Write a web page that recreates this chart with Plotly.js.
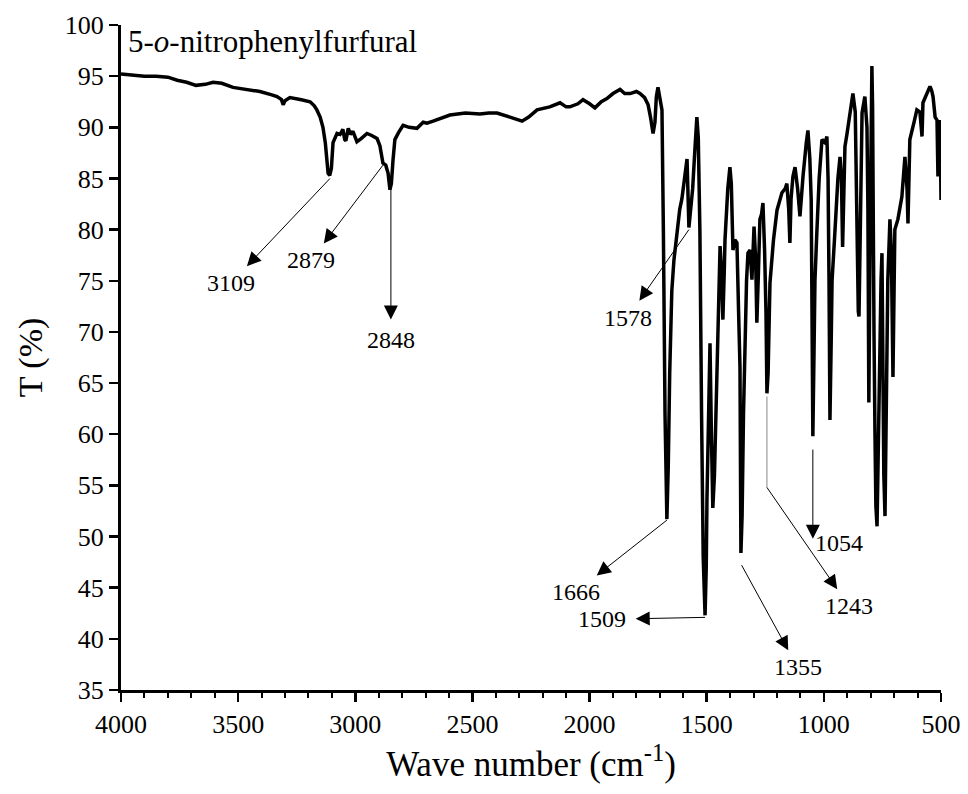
<!DOCTYPE html>
<html>
<head>
<meta charset="utf-8">
<script src="https://cdn.plot.ly/plotly-3.0.1.min.js"></script>
<style>html,body{margin:0;padding:0;background:#fff;}#chart{width:968px;height:794px;}</style>
</head>
<body>
<div id="chart"></div>
<script>
// Spectrum values (wavenumber in cm^-1, transmittance in %)
const wavenumber = [4000,3950,3900,3850,3800,3760,3720,3680,3640,3607,3570,3522,3470,3407,3360,3334,3315,3308,3300,3279,3230,3193,3175,3164,3150,3138,3128,3120,3116,3109,3102,3095,3078,3065,3053,3045,3040,3030,3020,3010,2993,2975,2950,2930,2907,2895,2882,2870,2860,2852,2846,2839,2831,2815,2796,2770,2737,2710,2694,2668,2630,2596,2530,2468,2430,2395,2340,2288,2260,2224,2170,2126,2100,2084,2050,2028,2000,1977,1950,1926,1900,1870,1850,1827,1800,1785,1765,1750,1740,1729,1721,1715,1708,1700,1691,1685,1678,1670,1664,1658,1649,1640,1627,1615,1606,1595,1584,1576,1568,1560,1550,1542,1536,1529,1522,1515,1507,1502,1499,1493,1486,1480,1474,1467,1460,1450,1443,1437,1431,1425,1422,1410,1401,1395,1388,1380,1371,1364,1358,1354,1349,1343,1337,1330,1324,1315,1307,1298,1291,1286,1279,1273,1266,1260,1253,1247,1243,1238,1230,1215,1200,1179,1165,1158,1150,1145,1140,1132,1123,1112,1102,1095,1089,1075,1068,1060,1054,1050,1047,1042,1038,1030,1020,1008,995,987,982,978,974,968,965,953,940,931,925,920,915,910,901,889,876,866,858,853,850,845,837,825,816,812,808,803,799,795,792,790,786,782,778,773,768,761,756,752,748,744,739,733,727,718,712,705,700,697,684,667,654,645,641,637,633,615,603,590,581,577,560,547,540,534,525,517,513,508,504,500];
const transmittance = [95.2,95.1,95.0,95.0,94.9,94.6,94.4,94.1,94.2,94.4,94.3,93.9,93.7,93.5,93.2,93.0,92.7,92.2,92.6,92.9,92.7,92.5,92.1,91.7,91.0,90.0,88.5,86.5,85.5,85.3,86.0,88.5,89.4,89.3,89.8,88.8,88.7,89.9,89.3,89.6,88.6,88.9,89.4,89.2,88.9,88.2,86.5,86.3,85.5,83.9,84.5,86.8,88.8,89.5,90.2,90.0,89.9,90.5,90.4,90.6,90.9,91.2,91.4,91.3,91.4,91.4,91.0,90.6,91.0,91.7,92.0,92.4,92.0,92.0,92.3,92.7,92.3,91.9,92.5,92.8,93.3,93.7,93.3,93.3,93.5,93.3,92.9,92.2,91.0,89.4,90.5,93.0,93.9,93.0,91.7,80.0,62.0,51.7,57.0,66.0,74.0,77.0,79.5,82.0,83.0,85.0,86.9,80.2,82.5,84.0,88.0,91.0,89.0,79.7,62.0,48.0,42.3,47.0,53.6,62.0,68.9,60.0,52.8,56.0,63.4,72.0,78.4,76.0,71.2,76.0,79.0,84.0,86.1,84.5,78.0,79.0,78.7,72.0,66.6,48.4,52.0,62.0,69.9,75.0,77.7,78.0,75.1,80.3,77.0,70.9,76.0,81.0,81.5,82.6,78.0,71.9,64.0,66.0,74.8,79.0,81.9,83.6,84.0,84.5,82.0,78.7,83.0,85.2,86.1,84.0,81.3,84.0,85.2,88.5,89.7,87.0,82.9,70.0,59.8,68.0,75.0,79.7,85.0,88.8,88.5,89.1,85.0,75.0,61.4,70.0,75.0,79.7,85.0,87.1,85.0,78.3,84.0,88.1,89.4,91.4,93.3,91.5,76.7,72.0,71.5,78.0,91.4,93.0,90.0,82.2,63.1,78.0,90.0,96.0,92.0,81.6,70.0,60.4,53.0,51.0,60.0,70.2,75.0,77.7,62.1,56.0,52.0,63.0,75.1,81.0,78.0,65.6,76.0,80.0,81.0,83.2,87.1,84.0,80.6,84.0,88.8,90.5,91.7,91.5,89.1,92.4,93.3,94.0,93.6,93.0,91.0,90.7,85.2,89.0,90.7,82.9];

// Peak annotation labels, where their arrows start (on the band) and where the label sits
const peakLabels = ["3109","2879","2848","1578","1666","1509","1355","1243","1054"];
const arrowTailX = [3108,2882,2848,1576,1670,1507,1351,1243,1047];
const arrowTailY = [85.0,86.3,83.9,80.0,51.6,42.1,47.2,54.8,58.5];
const labelX = [3530,3189,2848,1838,2058,1946,1112,893,1047];
const labelY = [74.8,77.0,69.2,71.4,44.6,41.9,37.2,43.2,49.4];
const labelAnchor = ['center','center','center','center','center','center','center','center','left'];
const labelStandoff = [3,3,6,3,3,8,3,3,4];

const serif = "Liberation Serif, Times New Roman, serif";
const annotations = [];
for (let i = 0; i < peakLabels.length; i++) {
  annotations.push({
    x: arrowTailX[i], y: arrowTailY[i], xref: 'x', yref: 'y',
    ax: labelX[i], ay: labelY[i], axref: 'x', ayref: 'y',
    xanchor: labelAnchor[i],
    text: peakLabels[i], showarrow: true, arrowside: 'start',
    startarrowhead: 2, startarrowsize: 2.8, arrowwidth: 1, arrowcolor: '#000',
    standoff: 0, startstandoff: labelStandoff[i],
    font: {family: serif, size: 24, color: '#000'}
  });
}
// sample name
annotations.push({
  x: 0.006, y: 1.005, xref: 'paper', yref: 'paper', xanchor: 'left', yanchor: 'top',
  text: '5-<i>o</i>-nitrophenylfurfural', showarrow: false,
  font: {family: serif, size: 31, color: '#000'}
});

const trace = {
  x: wavenumber, y: transmittance, type: 'scatter', mode: 'lines',
  line: {color: '#000', width: 3.5}, hoverinfo: 'skip'
};

const layout = {
  width: 968, height: 794,
  margin: {l: 121, r: 27, t: 25, b: 104},
  paper_bgcolor: '#fff', plot_bgcolor: '#fff',
  showlegend: false,
  font: {family: serif, color: '#000'},
  shapes: [
    // grey vertical guide below the 1243 band
    {type: 'line', xref: 'x', yref: 'y', x0: 1243, x1: 1243, y0: 63.7, y1: 54.8,
     line: {color: '#888', width: 1}}
  ],
  xaxis: {
    range: [4000, 500], dtick: 500, tick0: 500,
    showgrid: false, zeroline: false,
    showline: true, linecolor: '#000', linewidth: 3,
    ticks: 'outside', ticklen: 9, tickwidth: 2.5, tickcolor: '#000',
    minor: {dtick: 100, ticks: 'outside', ticklen: 5, tickwidth: 2, tickcolor: '#000', showgrid: false},
    tickfont: {family: serif, size: 26, color: '#000'},
    title: {text: 'Wave number (cm<sup>-1</sup>)', font: {family: serif, size: 35, color: '#000'}, standoff: 10}
  },
  yaxis: {
    range: [35, 100], dtick: 5, tick0: 35,
    showgrid: false, zeroline: false,
    showline: true, linecolor: '#000', linewidth: 3,
    ticks: 'outside', ticklen: 9, tickwidth: 2.5, tickcolor: '#000',
    tickfont: {family: serif, size: 26, color: '#000'},
    title: {text: 'T (%)', font: {family: serif, size: 34, color: '#000'}, standoff: 12}
  },
  annotations: annotations
};

Plotly.newPlot('chart', [trace], layout, {staticPlot: true, displayModeBar: false});
</script>
</body>
</html>
